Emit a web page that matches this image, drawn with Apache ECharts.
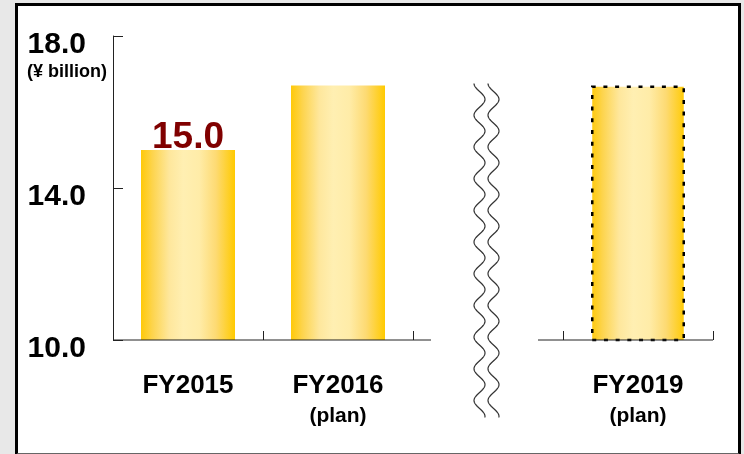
<!DOCTYPE html>
<html>
<head>
<meta charset="utf-8">
<script src="https://cdn.jsdelivr.net/npm/echarts@6/dist/echarts.min.js"></script>
<style>
  html, body { margin: 0; padding: 0; background: #e8e8e8; }
  #panel {
    position: absolute; left: 15px; top: 3px; width: 720px; height: 447px;
    background: #fff; border: 3px solid #000; border-bottom: 2px solid #666;
  }
  #chart { position: absolute; left: 0; top: 0; width: 744px; height: 454px; }
</style>
</head>
<body>
<div id="panel"></div>
<div id="chart"></div>
<script>
// Fiscal years (the blank slot is the gap where the axis is broken)
const categories = ['FY2015', 'FY2016', '', 'FY2019'];
const subLabels  = ['', '(plan)', '', '(plan)'];
// Values in ¥ billion
const values     = [15.0, 16.7, null, 16.7];
const valueLabelShown = [true, false, false, false];
const planTarget = [false, false, false, true];
// Value axis ticks
const yMin = 10.0, yMax = 18.0, yStep = 4.0;

const FONT = "'Liberation Sans', Arial, Helvetica, sans-serif";

const goldGradient = new echarts.graphic.LinearGradient(0, 0, 1, 0, [
  { offset: 0.00, color: '#FFC908' },
  { offset: 0.12, color: '#FDD44C' },
  { offset: 0.30, color: '#FEE79C' },
  { offset: 0.45, color: '#FFEFB2' },
  { offset: 0.62, color: '#FFECA8' },
  { offset: 0.80, color: '#FDDA72' },
  { offset: 1.00, color: '#FFCA00' }
]);

const barData = values.map((v, i) => {
  const item = { value: v };
  if (valueLabelShown[i]) item.label = { show: true };
  if (planTarget[i]) {
    item.itemStyle = { borderColor: '#000', borderWidth: 2.5, borderType: [4, 7.7] };
  }
  return item;
});

const chart = echarts.init(document.getElementById('chart'), null, { renderer: 'canvas' });

chart.setOption({
  animation: false,
  backgroundColor: 'transparent',
  textStyle: { fontFamily: FONT },
  grid: { left: 113, right: 31, top: 36, bottom: 114, containLabel: false },
  xAxis: {
    type: 'category',
    data: categories,
    boundaryGap: true,
    axisLine: { show: false },
    axisTick: { show: true, inside: true, length: 9, interval: 0,
                lineStyle: { color: '#222', width: 1 } },
    axisLabel: {
      interval: 0,
      margin: 31,
      formatter: (v, i) => subLabels[i] ? '{a|' + v + '}\n{b|' + subLabels[i] + '}' : '{a|' + v + '}',
      rich: {
        a: { fontFamily: FONT, fontSize: 26, fontWeight: 'bold', color: '#000', lineHeight: 30 },
        b: { fontFamily: FONT, fontSize: 21, fontWeight: 'bold', color: '#000', lineHeight: 31 }
      }
    }
  },
  yAxis: {
    type: 'value',
    min: yMin, max: yMax, interval: yStep,
    name: '(¥ billion)',
    nameLocation: 'end',
    nameGap: -36,
    nameTextStyle: { fontFamily: FONT, fontSize: 18, fontWeight: 'bold', color: '#000',
                     align: 'right', verticalAlign: 'middle', padding: [0, 6, 0, 0] },
    axisLine: { show: true, lineStyle: { color: '#222', width: 1 } },
    axisTick: { show: true, inside: true, length: 10, lineStyle: { color: '#222', width: 1 } },
    splitLine: { show: false },
    axisLabel: {
      margin: 27,
      formatter: v => '{v|' + v.toFixed(1) + '}',
      rich: {
        v: { fontFamily: FONT, fontSize: 30, fontWeight: 'bold', color: '#000',
             lineHeight: 32, padding: [18, 0, 0, 0] }
      }
    }
  },
  series: [{
    type: 'bar',
    data: barData,
    barWidth: 94,
    itemStyle: { color: goldGradient },
    label: {
      show: false,
      position: 'top',
      distance: -6,
      formatter: p => p.value.toFixed(1),
      fontFamily: FONT, fontSize: 37, fontWeight: 'bold', color: '#800000'
    }
  }]
});

// Broken category axis: two baseline segments plus wavy break marks,
// positioned from the axis scale.
function drawAxisBreak() {
  const p = i => chart.convertToPixel({ gridIndex: 0 }, [i, yMin]);
  const c0 = p(0), c1 = p(1), c2 = p(2), c3 = p(3);
  const band = c1[0] - c0[0];
  const baseY = c0[1];
  const lineStyle = { stroke: '#222', lineWidth: 1 };

  const seg1 = [[c0[0] - band / 2, baseY], [c1[0] + band / 2 + band * 0.12, baseY]];
  const seg2 = [[c3[0] - band / 2 - band / 6, baseY], [c3[0] + band / 2, baseY]];

  const topY = chart.convertToPixel({ gridIndex: 0 }, [2, 16.75])[1];
  const botY = baseY + 78;
  const period = 31.7, amp = 5.5;
  function wave(cx) {
    const pts = [];
    for (let y = topY; y <= botY; y += 1) {
      pts.push([cx - amp * Math.cos(2 * Math.PI * (y - topY) / period), y]);
    }
    return pts;
  }

  chart.setOption({
    graphic: [
      { type: 'polyline', shape: { points: seg1 }, style: lineStyle, z: 10 },
      { type: 'polyline', shape: { points: seg2 }, style: lineStyle, z: 10 },
      { type: 'polyline', shape: { points: wave(c2[0] - 8.5) }, style: { stroke: '#333', lineWidth: 1.2, fill: null } },
      { type: 'polyline', shape: { points: wave(c2[0] + 5.5) }, style: { stroke: '#333', lineWidth: 1.2, fill: null } }
    ]
  });
}
drawAxisBreak();
</script>
</body>
</html>
